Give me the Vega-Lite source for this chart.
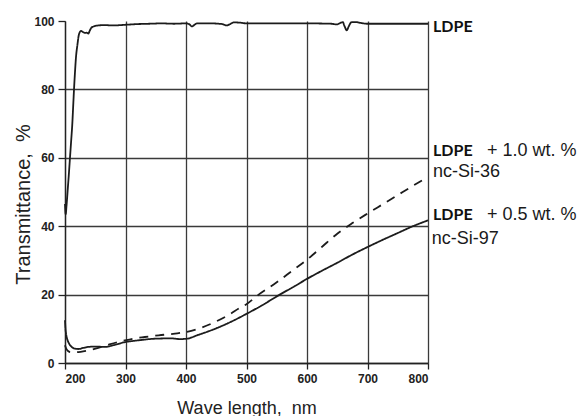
{
  "$schema": "https://vega.github.io/schema/vega-lite/v6.json",
  "width": 363,
  "height": 342,
  "autosize": {"type": "none"},
  "padding": {"left": 65, "top": 21, "right": 154, "bottom": 53},
  "background": "white",
  "config": {"view": {"stroke": null}},
  "datasets": {
    "curves": [
      {"series": "LDPE", "nm": 200, "T": 46.5},
      {"series": "LDPE", "nm": 201.1, "T": 43.5},
      {"series": "LDPE", "nm": 202.5, "T": 46},
      {"series": "LDPE", "nm": 204.4, "T": 50.5},
      {"series": "LDPE", "nm": 206.3, "T": 55},
      {"series": "LDPE", "nm": 208.3, "T": 60.2},
      {"series": "LDPE", "nm": 210.2, "T": 65},
      {"series": "LDPE", "nm": 212.1, "T": 70},
      {"series": "LDPE", "nm": 213.5, "T": 75},
      {"series": "LDPE", "nm": 214.9, "T": 80},
      {"series": "LDPE", "nm": 216.5, "T": 85},
      {"series": "LDPE", "nm": 218.2, "T": 89.5},
      {"series": "LDPE", "nm": 220.5, "T": 93},
      {"series": "LDPE", "nm": 223.1, "T": 96.1},
      {"series": "LDPE", "nm": 226.4, "T": 97.1},
      {"series": "LDPE", "nm": 229.5, "T": 96.8},
      {"series": "LDPE", "nm": 233, "T": 96.5},
      {"series": "LDPE", "nm": 236, "T": 96.6},
      {"series": "LDPE", "nm": 238.5, "T": 96.3},
      {"series": "LDPE", "nm": 241, "T": 97.2},
      {"series": "LDPE", "nm": 244, "T": 98.1},
      {"series": "LDPE", "nm": 249, "T": 98.5},
      {"series": "LDPE", "nm": 255, "T": 98.7},
      {"series": "LDPE", "nm": 265, "T": 98.8},
      {"series": "LDPE", "nm": 280, "T": 98.7},
      {"series": "LDPE", "nm": 300, "T": 98.9},
      {"series": "LDPE", "nm": 320, "T": 99.1},
      {"series": "LDPE", "nm": 340, "T": 99.2},
      {"series": "LDPE", "nm": 360, "T": 99.3},
      {"series": "LDPE", "nm": 380, "T": 99.2},
      {"series": "LDPE", "nm": 400, "T": 99.3},
      {"series": "LDPE", "nm": 405, "T": 99.1},
      {"series": "LDPE", "nm": 410, "T": 98.4},
      {"series": "LDPE", "nm": 414, "T": 98.9},
      {"series": "LDPE", "nm": 418, "T": 99.3},
      {"series": "LDPE", "nm": 440, "T": 99.3},
      {"series": "LDPE", "nm": 460, "T": 99.1},
      {"series": "LDPE", "nm": 467, "T": 98.7},
      {"series": "LDPE", "nm": 473, "T": 99.1},
      {"series": "LDPE", "nm": 479, "T": 99.6},
      {"series": "LDPE", "nm": 490, "T": 99.5},
      {"series": "LDPE", "nm": 500, "T": 99.3},
      {"series": "LDPE", "nm": 550, "T": 99.3},
      {"series": "LDPE", "nm": 600, "T": 99.3},
      {"series": "LDPE", "nm": 640, "T": 99.2},
      {"series": "LDPE", "nm": 649, "T": 99.0},
      {"series": "LDPE", "nm": 656, "T": 99.5},
      {"series": "LDPE", "nm": 659, "T": 99.7},
      {"series": "LDPE", "nm": 662, "T": 98.5},
      {"series": "LDPE", "nm": 665.6, "T": 97.3},
      {"series": "LDPE", "nm": 669, "T": 98.4},
      {"series": "LDPE", "nm": 673, "T": 99.6},
      {"series": "LDPE", "nm": 679, "T": 99.7},
      {"series": "LDPE", "nm": 690, "T": 99.4},
      {"series": "LDPE", "nm": 698.7, "T": 99.2},
      {"series": "LDPE", "nm": 750, "T": 99.2},
      {"series": "LDPE", "nm": 800, "T": 99.2},

      {"series": "LDPE + 0.5 wt. % nc-Si-97", "nm": 200, "T": 12.5},
      {"series": "LDPE + 0.5 wt. % nc-Si-97", "nm": 200.8, "T": 10},
      {"series": "LDPE + 0.5 wt. % nc-Si-97", "nm": 201.7, "T": 8.6},
      {"series": "LDPE + 0.5 wt. % nc-Si-97", "nm": 203, "T": 7.4},
      {"series": "LDPE + 0.5 wt. % nc-Si-97", "nm": 204.4, "T": 6.6},
      {"series": "LDPE + 0.5 wt. % nc-Si-97", "nm": 207, "T": 5.6},
      {"series": "LDPE + 0.5 wt. % nc-Si-97", "nm": 211, "T": 4.7},
      {"series": "LDPE + 0.5 wt. % nc-Si-97", "nm": 216, "T": 4.2},
      {"series": "LDPE + 0.5 wt. % nc-Si-97", "nm": 222, "T": 4.1},
      {"series": "LDPE + 0.5 wt. % nc-Si-97", "nm": 230, "T": 4.4},
      {"series": "LDPE + 0.5 wt. % nc-Si-97", "nm": 238.5, "T": 4.7},
      {"series": "LDPE + 0.5 wt. % nc-Si-97", "nm": 250, "T": 4.8},
      {"series": "LDPE + 0.5 wt. % nc-Si-97", "nm": 266, "T": 4.7},
      {"series": "LDPE + 0.5 wt. % nc-Si-97", "nm": 280, "T": 5.2},
      {"series": "LDPE + 0.5 wt. % nc-Si-97", "nm": 299, "T": 6.1},
      {"series": "LDPE + 0.5 wt. % nc-Si-97", "nm": 320, "T": 6.6},
      {"series": "LDPE + 0.5 wt. % nc-Si-97", "nm": 348.8, "T": 7.1},
      {"series": "LDPE + 0.5 wt. % nc-Si-97", "nm": 375, "T": 7.2},
      {"series": "LDPE + 0.5 wt. % nc-Si-97", "nm": 390, "T": 7.0},
      {"series": "LDPE + 0.5 wt. % nc-Si-97", "nm": 401, "T": 7.1},
      {"series": "LDPE + 0.5 wt. % nc-Si-97", "nm": 420, "T": 8.2},
      {"series": "LDPE + 0.5 wt. % nc-Si-97", "nm": 448, "T": 10},
      {"series": "LDPE + 0.5 wt. % nc-Si-97", "nm": 475, "T": 12.1},
      {"series": "LDPE + 0.5 wt. % nc-Si-97", "nm": 500.3, "T": 14.4},
      {"series": "LDPE + 0.5 wt. % nc-Si-97", "nm": 525, "T": 16.8},
      {"series": "LDPE + 0.5 wt. % nc-Si-97", "nm": 555, "T": 20},
      {"series": "LDPE + 0.5 wt. % nc-Si-97", "nm": 580, "T": 22.5},
      {"series": "LDPE + 0.5 wt. % nc-Si-97", "nm": 600, "T": 24.6},
      {"series": "LDPE + 0.5 wt. % nc-Si-97", "nm": 625, "T": 27},
      {"series": "LDPE + 0.5 wt. % nc-Si-97", "nm": 650, "T": 29.3},
      {"series": "LDPE + 0.5 wt. % nc-Si-97", "nm": 675, "T": 31.7},
      {"series": "LDPE + 0.5 wt. % nc-Si-97", "nm": 700, "T": 33.9},
      {"series": "LDPE + 0.5 wt. % nc-Si-97", "nm": 725, "T": 36},
      {"series": "LDPE + 0.5 wt. % nc-Si-97", "nm": 750, "T": 38},
      {"series": "LDPE + 0.5 wt. % nc-Si-97", "nm": 775, "T": 40},
      {"series": "LDPE + 0.5 wt. % nc-Si-97", "nm": 800, "T": 41.7},

      {"series": "LDPE + 1.0 wt. % nc-Si-36", "nm": 200, "T": 5.2},
      {"series": "LDPE + 1.0 wt. % nc-Si-36", "nm": 202, "T": 4.2},
      {"series": "LDPE + 1.0 wt. % nc-Si-36", "nm": 205, "T": 3.5},
      {"series": "LDPE + 1.0 wt. % nc-Si-36", "nm": 208.3, "T": 3.2},
      {"series": "LDPE + 1.0 wt. % nc-Si-36", "nm": 215, "T": 3.1},
      {"series": "LDPE + 1.0 wt. % nc-Si-36", "nm": 222, "T": 3.2},
      {"series": "LDPE + 1.0 wt. % nc-Si-36", "nm": 230, "T": 3.4},
      {"series": "LDPE + 1.0 wt. % nc-Si-36", "nm": 238.5, "T": 3.7},
      {"series": "LDPE + 1.0 wt. % nc-Si-36", "nm": 255, "T": 4.4},
      {"series": "LDPE + 1.0 wt. % nc-Si-36", "nm": 275, "T": 5.5},
      {"series": "LDPE + 1.0 wt. % nc-Si-36", "nm": 299, "T": 6.6},
      {"series": "LDPE + 1.0 wt. % nc-Si-36", "nm": 315, "T": 7.2},
      {"series": "LDPE + 1.0 wt. % nc-Si-36", "nm": 332, "T": 7.6},
      {"series": "LDPE + 1.0 wt. % nc-Si-36", "nm": 355, "T": 8.1},
      {"series": "LDPE + 1.0 wt. % nc-Si-36", "nm": 381.8, "T": 8.6},
      {"series": "LDPE + 1.0 wt. % nc-Si-36", "nm": 401, "T": 9.1},
      {"series": "LDPE + 1.0 wt. % nc-Si-36", "nm": 425, "T": 10.3},
      {"series": "LDPE + 1.0 wt. % nc-Si-36", "nm": 448, "T": 12},
      {"series": "LDPE + 1.0 wt. % nc-Si-36", "nm": 470, "T": 14},
      {"series": "LDPE + 1.0 wt. % nc-Si-36", "nm": 489, "T": 16.1},
      {"series": "LDPE + 1.0 wt. % nc-Si-36", "nm": 500, "T": 17.2},
      {"series": "LDPE + 1.0 wt. % nc-Si-36", "nm": 520, "T": 20},
      {"series": "LDPE + 1.0 wt. % nc-Si-36", "nm": 550, "T": 23.6},
      {"series": "LDPE + 1.0 wt. % nc-Si-36", "nm": 575, "T": 26.9},
      {"series": "LDPE + 1.0 wt. % nc-Si-36", "nm": 600, "T": 30.2},
      {"series": "LDPE + 1.0 wt. % nc-Si-36", "nm": 625, "T": 34},
      {"series": "LDPE + 1.0 wt. % nc-Si-36", "nm": 650, "T": 37.8},
      {"series": "LDPE + 1.0 wt. % nc-Si-36", "nm": 675, "T": 40.9},
      {"series": "LDPE + 1.0 wt. % nc-Si-36", "nm": 700, "T": 43.7},
      {"series": "LDPE + 1.0 wt. % nc-Si-36", "nm": 725, "T": 46.4},
      {"series": "LDPE + 1.0 wt. % nc-Si-36", "nm": 750, "T": 49.1},
      {"series": "LDPE + 1.0 wt. % nc-Si-36", "nm": 775, "T": 51.8},
      {"series": "LDPE + 1.0 wt. % nc-Si-36", "nm": 800, "T": 54.4}
    ],
    "names": [
      {"text": "LDPE", "nm": 808.3, "T": 96.8},
      {"text": "LDPE", "nm": 808.3, "T": 60.4},
      {"text": "LDPE", "nm": 808.3, "T": 41.7}
    ],
    "notes": [
      {"text": "+ 1.0 wt. %", "nm": 897.5, "T": 60.4},
      {"text": "nc-Si-36", "nm": 808.3, "T": 54.4},
      {"text": "+ 0.5 wt. %", "nm": 897.5, "T": 41.7},
      {"text": "nc-Si-97", "nm": 806, "T": 34.9}
    ]
  },
  "layer": [
    {
      "data": {"name": "curves"},
      "mark": {"type": "line", "color": "#1c1c1c", "strokeWidth": 1.8, "interpolate": "monotone"},
      "encoding": {
        "x": {
          "field": "nm", "type": "quantitative",
          "scale": {"domain": [200, 800], "nice": false, "zero": false},
          "axis": {
            "values": [200, 250, 300, 350, 400, 450, 500, 550, 600, 650, 700, 750, 800],
            "labelExpr": "datum.value % 100 === 0 ? datum.label : ''",
            "grid": true,
            "gridColor": "#3a3a3a",
            "gridWidth": 1.3,
            "gridOpacity": {"condition": {"test": "datum.value % 100 === 0", "value": 1}, "value": 0},
            "tickSize": {"condition": {"test": "datum.value % 100 === 0", "value": 6}, "value": 4},
            "tickColor": "#222",
            "tickWidth": 1.3,
            "domainColor": "#222",
            "domainWidth": 1.3,
            "labelFont": "Liberation Sans",
            "labelFontWeight": "bold",
            "labelFontSize": 12,
            "labelColor": "#222",
            "labelPadding": 4,
            "title": "Wave length,\u00a0 nm",
            "titleFont": "Liberation Sans",
            "titleFontSize": 18,
            "titleFontWeight": "normal",
            "titleColor": "#222",
            "titleBaseline": "alphabetic",
            "titleAlign": "center",
            "titleX": 181.5,
            "titleY": 50
          }
        },
        "y": {
          "field": "T", "type": "quantitative",
          "scale": {"domain": [0, 100], "nice": false},
          "axis": {
            "values": [0, 10, 20, 30, 40, 50, 60, 70, 80, 90, 100],
            "labelExpr": "datum.value % 20 === 0 ? datum.label : ''",
            "grid": true,
            "gridColor": "#3a3a3a",
            "gridWidth": 1.3,
            "gridOpacity": {"condition": {"test": "datum.value % 20 === 0 && datum.value < 100", "value": 1}, "value": 0},
            "tickSize": {"condition": {"test": "datum.value % 20 === 0", "value": 7}, "value": 3.5},
            "tickColor": "#222",
            "tickWidth": 1.3,
            "domainColor": "#222",
            "domainWidth": 1.3,
            "labelFont": "Liberation Sans",
            "labelFontWeight": "bold",
            "labelFontSize": 12,
            "labelColor": "#222",
            "labelPadding": 4,
            "title": "Transmittance,\u00a0 %",
            "titleFont": "Liberation Sans",
            "titleFontSize": 20,
            "titleFontWeight": "normal",
            "titleColor": "#222",
            "titleBaseline": "alphabetic",
            "titleAlign": "center",
            "titleAngle": 270,
            "titleX": -35.5,
            "titleY": 183
          }
        },
        "strokeDash": {
          "field": "series", "type": "nominal",
          "scale": {
            "domain": ["LDPE", "LDPE + 0.5 wt. % nc-Si-97", "LDPE + 1.0 wt. % nc-Si-36"],
            "range": [[1, 0], [1, 0], [9, 7]]
          },
          "legend": null
        }
      }
    },
    {
      "data": {"name": "names"},
      "mark": {"type": "text", "font": "Lato", "fontWeight": "bold", "fontSize": 16, "align": "left", "baseline": "alphabetic", "color": "#111"},
      "encoding": {
        "x": {"field": "nm", "type": "quantitative"},
        "y": {"field": "T", "type": "quantitative"},
        "text": {"field": "text"}
      }
    },
    {
      "data": {"name": "notes"},
      "mark": {"type": "text", "font": "Liberation Sans", "fontSize": 18, "align": "left", "baseline": "alphabetic", "color": "#1a1a1a"},
      "encoding": {
        "x": {"field": "nm", "type": "quantitative"},
        "y": {"field": "T", "type": "quantitative"},
        "text": {"field": "text"}
      }
    }
  ]
}
